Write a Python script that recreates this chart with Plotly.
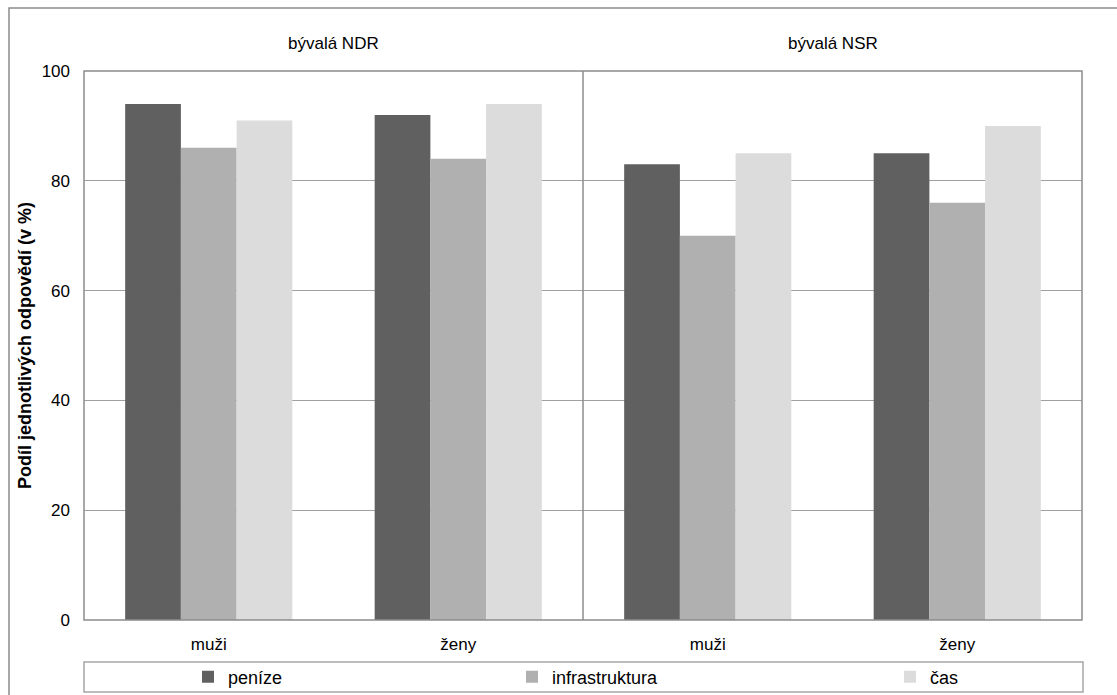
import plotly.graph_objects as go

categories = ["muži", "ženy", "muži", "ženy"]
groups = ["bývalá NDR", "bývalá NSR"]
series_names = ["peníze", "infrastruktura", "čas"]
penize = [94, 92, 83, 85]
infrastruktura = [86, 84, 70, 76]
cas = [91, 94, 85, 90]
y_ticks = [0, 20, 40, 60, 80, 100]

colors = ["#606060", "#b0b0b0", "#dcdcdc"]
xpos = list(range(len(categories)))

W, H = 1117, 695
L, R, T, B = 84, 35, 71, 75
pw, ph = W - L - R, H - T - B

def px_x(p):
    return (p - L) / pw

def px_y(p):
    return (H - B - p) / ph

FONT = "Liberation Sans, Arial, sans-serif"

fig = go.Figure()
legend_names = ["legend", "legend2", "legend3"]
for name, vals, col, lg in zip(series_names, [penize, infrastruktura, cas], colors, legend_names):
    fig.add_trace(go.Bar(x=xpos, y=vals, name=name, marker=dict(color=col, line=dict(width=0)),
                         legend=lg, showlegend=True))

text_starts = [229, 553, 931]
leg_common = dict(orientation="h", yanchor="middle", xanchor="left", bgcolor="rgba(0,0,0,0)",
                  xref="container", yref="container",
                  font=dict(family=FONT, size=18, color="#000"), borderwidth=0)
layout_legends = {}
for lg, xs in zip(legend_names, text_starts):
    layout_legends[lg] = dict(x=(xs - 41) / W, y=(H - 677) / H, **leg_common)

shapes = [
    # outer frame
    dict(type="rect", xref="paper", yref="paper", x0=px_x(9), x1=px_x(1130), y0=px_y(710), y1=px_y(8),
         line=dict(color="#8c8c8c", width=1.5), layer="below"),
    # legend box
    dict(type="rect", xref="paper", yref="paper", x0=px_x(84), x1=px_x(1083), y0=px_y(692), y1=px_y(662),
         line=dict(color="#a6a6a6", width=1.5), layer="below"),
    # plot frame
    dict(type="rect", xref="paper", yref="paper", x0=0, x1=1, y0=0, y1=1,
         line=dict(color="#8c8c8c", width=1.5)),
    # group divider
    dict(type="line", xref="x", yref="paper", x0=1.5, x1=1.5, y0=0, y1=1,
         line=dict(color="#8c8c8c", width=1.5)),
]

annotations = [
    dict(text=groups[0], x=0.5, xref="x", y=px_y(44), yref="paper", yanchor="middle", showarrow=False,
         font=dict(family=FONT, size=17, color="#000")),
    dict(text=groups[1], x=2.5, xref="x", y=px_y(44), yref="paper", yanchor="middle", showarrow=False,
         font=dict(family=FONT, size=17, color="#000")),
]

fig.update_layout(
    width=W, height=H,
    margin=dict(l=L, r=R, t=T, b=B, autoexpand=False),
    paper_bgcolor="white", plot_bgcolor="white",
    barmode="group", bargap=0.33, bargroupgap=0,
    showlegend=True,
    font=dict(family=FONT, size=17, color="#000"),
    shapes=shapes, annotations=annotations,
    **layout_legends,
)
fig.update_xaxes(tickmode="array", tickvals=xpos, ticktext=categories, range=[-0.5, 3.5],
                 showgrid=False, zeroline=False, showline=False, ticks="", ticklabelstandoff=12,
                 automargin=False,
                 tickfont=dict(family=FONT, size=17, color="#000"))
fig.update_yaxes(range=[0, 100], tickvals=y_ticks, showgrid=True, gridcolor="#a0a0a0", gridwidth=1,
                 zeroline=False, showline=False, ticks="", ticklabelstandoff=13,
                 automargin=False,
                 tickfont=dict(family=FONT, size=17, color="#000"),
                 title=dict(text="<b>Podíl jednotlivých odpovědí (v %)</b>", standoff=5,
                            font=dict(family=FONT, size=18, color="#000")))

fig.write_html("out.html", config={"displayModeBar": False},
               post_script="document.body.style.margin='0px';")
